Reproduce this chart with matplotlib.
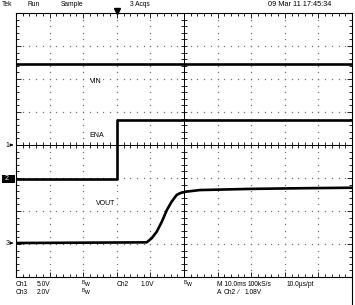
import numpy as np
import matplotlib
matplotlib.use("Agg")
import matplotlib.pyplot as plt
import matplotlib.transforms as mtransforms
from matplotlib.patches import Rectangle
from matplotlib.lines import Line2D

plt.rcParams['font.family'] = ['Liberation Sans', 'DejaVu Sans']

# channel settings: volts per division, ground offset in divisions
ch1_scale, ch1_offset = 5.0, 0.0
ch2_scale, ch2_offset = 1.0, -1.03
ch3_scale, ch3_offset = 2.0, -2.97

# VIN (Ch1)
vin_t = [-30, 70]
vin_v = [12.2, 12.2]

# ENA (Ch2)
ena_t = [-30, 0, 0, 70]
ena_v = [0.0, 0.0, 1.8, 1.8]

# VOUT (Ch3)
vout_t = [-30, 8.9, 10.4, 11.9, 13.4, 14.9, 16.3, 17.8, 18.8, 20.5, 24.8, 40, 55, 70]
vout_v = [0.0, 0.04, 0.29, 0.69, 1.29, 2.0, 2.5, 2.91, 3.02, 3.11, 3.21, 3.28, 3.32, 3.35]

labels = ["VIN", "ENA", "VOUT"]
label_t = [-8.0, -8.3, -6.2]
label_div = [1.91, 0.30, -1.76]

t_center = 20  # time at the screen centre line


def to_div(v, scale, offset):
    return np.array(v) / scale + offset


fig = plt.figure(figsize=(3.55, 3.05), dpi=100)
ax = fig.add_axes([16 / 355, 28 / 305, 336 / 355, 264 / 305])
ax.set_xlim(-30, 70)
ax.set_ylim(-4, 4)

# dotted graticule
for y in [-3, -2, -1, 1, 2, 3]:
    xs = np.arange(-28, 70, 2)
    ax.plot(xs, np.full(len(xs), y), ls='none', marker='s', ms=0.9, mew=0, color='#777777')
for x in [-20, -10, 0, 10, 30, 40, 50, 60]:
    ys = np.arange(-3.8, 4.0, 0.2)
    ax.plot(np.full(len(ys), x), ys, ls='none', marker='s', ms=0.9, mew=0, color='#777777')

# centre cross with ticks
ax.axhline(0, color='black', lw=0.7)
ax.axvline(t_center, color='black', lw=0.7)
xt = np.arange(-28, 70, 2)
ax.plot(xt, np.zeros(len(xt)), ls='none', marker='|', ms=4, mew=0.6, color='black')
yt = np.arange(-3.8, 4.0, 0.2)
ax.plot(np.full(len(yt), t_center), yt, ls='none', marker='_', ms=4, mew=0.6, color='black')

# border ticks
ax.set_xticks(np.arange(-30, 71, 10))
ax.set_xticks(np.arange(-30, 71, 2), minor=True)
ax.set_yticks(np.arange(-4, 5, 1))
ax.set_yticks(np.arange(-4, 4.01, 0.2), minor=True)
ax.tick_params(which='both', direction='in', top=True, right=True, bottom=True, left=True,
               labelbottom=False, labelleft=False, width=0.6, color='black')
ax.tick_params(which='major', length=3.5)
ax.tick_params(which='minor', length=2)
for s in ax.spines.values():
    s.set_linewidth(0.8)

# traces
ax.plot(vin_t, to_div(vin_v, ch1_scale, ch1_offset), color='black', lw=1.9)
ax.plot(ena_t, to_div(ena_v, ch2_scale, ch2_offset), color='black', lw=1.9)
ax.plot(vout_t, to_div(vout_v, ch3_scale, ch3_offset), color='black', lw=1.9)

for txt, t, d in zip(labels, label_t, label_div):
    ax.text(t, d, txt, fontsize=5, ha='left', va='center')

# trigger position marker
ax.plot([0], [4.06], marker='v', ms=4, color='black', clip_on=False)

# ground markers
blend = mtransforms.blended_transform_factory(fig.transFigure, ax.transData)
for name, off in [("1", ch1_offset), ("3", ch3_offset)]:
    fig.text(7.5 / 355, off, name, transform=blend, fontsize=5, ha='center', va='center')
    ax.annotate('', xy=(16 / 355, off), xycoords=blend, xytext=(9 / 355, off), textcoords=blend,
                arrowprops=dict(arrowstyle='-|>', lw=0.6, mutation_scale=4, color='black'))

fig.patches.append(Rectangle((2 / 355, ch2_offset - 0.11), 13 / 355, 0.22, transform=blend,
                             facecolor='black', edgecolor='none', figure=fig))
fig.text(6.5 / 355, ch2_offset, "2", transform=blend, fontsize=5, ha='center', va='center', color='white')
ax.annotate('', xy=(15 / 355, ch2_offset), xycoords=blend, xytext=(9.5 / 355, ch2_offset), textcoords=blend,
            arrowprops=dict(arrowstyle='-|>', lw=0.6, mutation_scale=4, color='white'))

# header
fs = 4.8
top_y = 1 - 5 / 305
for x, s in [(2, "Tek"), (27, "Run"), (61, "Sample"), (130, "3 Acqs")]:
    fig.text(x / 355, top_y, s, fontsize=fs, ha='left', va='center')
fig.text(268 / 355, top_y, "09 Mar 11 17:45:34", fontsize=5.3, ha='left', va='center')

# footer
row1 = 1 - 284 / 305
row2 = 1 - 292 / 305
for x, s, y in [(16, "Ch1", row1), (37, "5.0V", row1), (117, "Ch2", row1), (141, "1.0V", row1),
                (217, "M 10.0ms", row1), (248, "100kS/s", row1), (287, "10.0\u00b5s/pt", row1),
                (16, "Ch3", row2), (37, "2.0V", row2), (217, "A", row2), (224, "Ch2", row2),
                (237, "\u2215", row2), (245, "1.08V", row2)]:
    fig.text(x / 355, y, s, fontsize=fs, ha='left', va='center')
for x, y in [(82, row1), (184, row1), (82, row2)]:
    fig.text(x / 355, y + 1.5 / 305, "B", fontsize=3.5, ha='left', va='center')
    fig.text((x + 2.5) / 355, y, "w", fontsize=fs, ha='left', va='center')

fig.add_artist(Line2D([352 / 355, 352 / 355], [0, 28 / 305], color='black', lw=0.8))

fig.savefig("out.png", dpi=100)
